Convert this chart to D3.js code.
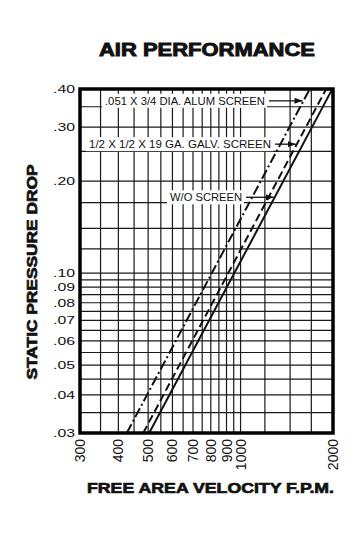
<!DOCTYPE html>
<html>
<head>
<meta charset="utf-8">
<style>
  body { margin: 0; background: #fff; }
  svg text { font-family: "Liberation Sans", Arial, sans-serif; fill: #111; }
</style>
<script src="https://d3js.org/d3.v7.min.js"></script>
</head>
<body>
<svg width="364" height="547"></svg>
<script>
// velocity (f.p.m.) tick labels and grid
var xTicks = [300, 400, 500, 600, 700, 800, 900, 1000, 2000];
var xGrid = [350, 400, 450, 500, 550, 600, 650, 700, 750, 800, 850, 900, 950, 1000, 1200, 1450, 1700];

// static pressure drop tick labels and grid
var yTicks = [0.03, 0.04, 0.05, 0.06, 0.07, 0.08, 0.09, 0.10, 0.20, 0.30, 0.40];
var yTickLabels = [".03", ".04", ".05", ".06", ".07", ".08", ".09", ".10", ".20", ".30", ".40"];
var yGrid = [0.035, 0.04, 0.045, 0.05, 0.055, 0.06, 0.065, 0.07, 0.075, 0.08, 0.085, 0.09, 0.095,
             0.10, 0.12, 0.14, 0.17, 0.20, 0.25, 0.30, 0.35];

// the three screen curves: [velocity, pressure]
var alumScreen = [[426, 0.03], [1680, 0.40]];
var galvScreen = [[482, 0.03], [1900, 0.40]];
var noScreen   = [[504, 0.03], [1990, 0.40]];

var seriesLabels = [".051 X 3/4 DIA. ALUM SCREEN", "1/2 X 1/2 X 19 GA. GALV. SCREEN", "W/O SCREEN"];
var labelLevels = [0.366, 0.264, 0.177];   // pressure where each arrow hits its curve

var svg = d3.select("svg");
var pLeft = 80, pRight = 333, pTop = 89, pBottom = 433;

var x = d3.scaleLog().domain([300, 2000]).range([pLeft, pRight]);
var y = d3.scaleLog().domain([0.03, 0.40]).range([pBottom, pTop]);

// title
svg.append("text")
   .attr("x", 99).attr("y", 56)
   .attr("textLength", 216).attr("lengthAdjust", "spacingAndGlyphs")
   .style("font-size", "17.5px").style("font-weight", "bold")
   .style("stroke", "#111").style("stroke-width", 0.9)
   .text("AIR PERFORMANCE");

// grid
var g = svg.append("g");
g.selectAll(".vgrid").data(xGrid).enter().append("line")
   .attr("x1", d => x(d)).attr("x2", d => x(d))
   .attr("y1", pTop).attr("y2", pBottom)
   .attr("stroke", "#1a1a1a").attr("stroke-width", 1.2);
g.selectAll(".hgrid").data(yGrid).enter().append("line")
   .attr("y1", d => y(d)).attr("y2", d => y(d))
   .attr("x1", pLeft).attr("x2", pRight)
   .attr("stroke", "#1a1a1a").attr("stroke-width", 1.2);

// tick labels
svg.selectAll(".xl").data(xTicks).enter().append("text")
   .attr("transform", d => "translate(" + x(d) + ",439) rotate(-90)")
   .attr("dy", "0.36em")
   .attr("text-anchor", "end")
   .style("font-size", "14px")
   .text(d => d);

svg.selectAll(".yl").data(yTicks).enter().append("text")
   .attr("x", 53).attr("y", d => y(d))
   .attr("dy", "0.36em")
   .attr("textLength", 22).attr("lengthAdjust", "spacingAndGlyphs")
   .style("font-size", "10.5px")
   .text((d, i) => yTickLabels[i]);

// axis titles
svg.append("text")
   .attr("transform", "translate(37,272) rotate(-90)")
   .attr("text-anchor", "middle")
   .attr("textLength", 215).attr("lengthAdjust", "spacingAndGlyphs")
   .style("font-size", "15px").style("font-weight", "bold")
   .style("stroke", "#111").style("stroke-width", 0.7)
   .text("STATIC PRESSURE DROP");

svg.append("text")
   .attr("x", 87).attr("y", 493)
   .attr("textLength", 247).attr("lengthAdjust", "spacingAndGlyphs")
   .style("font-size", "15px").style("font-weight", "bold")
   .style("stroke", "#111").style("stroke-width", 0.7)
   .text("FREE AREA VELOCITY F.P.M.");

// curves
var defs = svg.append("defs");
defs.append("clipPath").attr("id", "plot").append("rect")
   .attr("x", pLeft).attr("y", pTop).attr("width", pRight - pLeft).attr("height", pBottom - pTop);

var series = [alumScreen, galvScreen, noScreen];
var dashes = ["10,3,2,3", "8,4", null];
var line = d3.line().x(d => x(d[0])).y(d => y(d[1]));

svg.selectAll(".curve").data(series).enter().append("path")
   .attr("d", line)
   .attr("clip-path", "url(#plot)")
   .attr("fill", "none")
   .attr("stroke", "#111")
   .attr("stroke-width", 2)
   .attr("stroke-dasharray", (d, i) => dashes[i]);

// curve labels with arrows
defs.append("marker")
   .attr("id", "arrow").attr("viewBox", "0 0 8 6")
   .attr("refX", 8).attr("refY", 3)
   .attr("markerWidth", 8).attr("markerHeight", 6)
   .attr("markerUnits", "userSpaceOnUse")
   .attr("orient", "auto")
   .append("path").attr("d", "M0,0L8,3L0,6Z").attr("fill", "#111");

function velocityAt(s, p) {
  var t = (Math.log(p) - Math.log(s[0][1])) / (Math.log(s[1][1]) - Math.log(s[0][1]));
  return Math.exp(Math.log(s[0][0]) + t * (Math.log(s[1][0]) - Math.log(s[0][0])));
}

var labelX = [105, 89, 170];
var labelW = [160, 182, 72];

seriesLabels.forEach(function(txt, i) {
  var ly = y(labelLevels[i]);
  svg.append("rect")
     .attr("x", labelX[i] - 3).attr("y", ly - 7)
     .attr("width", labelW[i] + 5).attr("height", 14)
     .attr("fill", "#fff");
  svg.append("text")
     .attr("x", labelX[i]).attr("y", ly).attr("dy", "0.36em")
     .attr("textLength", labelW[i]).attr("lengthAdjust", "spacingAndGlyphs")
     .style("font-size", "10.5px")
     .text(txt);
  svg.append("line")
     .attr("x1", labelX[i] + labelW[i] + 4)
     .attr("x2", x(velocityAt(series[i], labelLevels[i])) - 1)
     .attr("y1", ly).attr("y2", ly)
     .attr("stroke", "#111").attr("stroke-width", 1.3)
     .attr("marker-end", "url(#arrow)");
});

// frame
svg.append("rect")
   .attr("x", pLeft).attr("y", pTop)
   .attr("width", pRight - pLeft).attr("height", pBottom - pTop)
   .attr("fill", "none").attr("stroke", "#000").attr("stroke-width", 3.5);
</script>
</body>
</html>
